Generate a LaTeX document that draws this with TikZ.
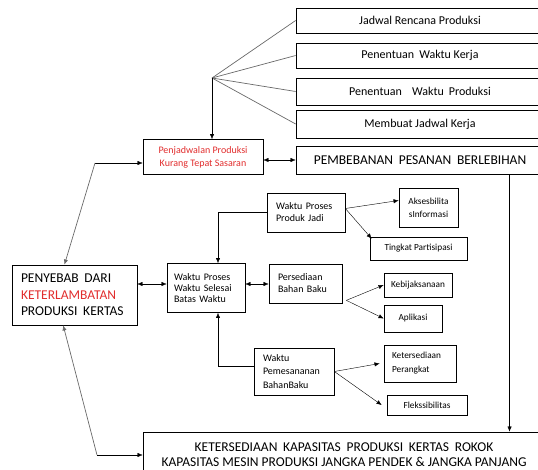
\documentclass[tikz,border=0pt]{standalone}
\usepackage{fontspec}
\setmainfont{Carlito}
\usetikzlibrary{arrows.meta,positioning,calc}

\definecolor{alertred}{RGB}{225,45,45}
\definecolor{linkgray}{RGB}{105,105,105}
\newcommand{\wsp}{\hspace{0.42em}}

\begin{document}
\begin{tikzpicture}[x=1pt,y=-1pt,>={Latex[length=1.8mm,width=1.5mm]},
  box/.style={draw,rectangle,line width=0.7pt,inner sep=2pt},
  topbox/.style={box,minimum width=248,font=\fontsize{12}{14}\selectfont},
  smallbox/.style={box,font=\fontsize{9.3}{13}\selectfont,align=center},
  leftbox/.style={box,font=\fontsize{10}{12}\selectfont,align=left,inner xsep=9pt}]
  \useasboundingbox (0,0) rectangle (538,470);

  % top column of boxes
  \node[topbox,minimum height=25] (jrp) at (420,20.5) {Jadwal Rencana Produksi};
  \node[topbox,minimum height=25] (pwk) at (420,55.5) {Penentuan\wsp Waktu Kerja};
  \node[topbox,minimum height=27] (pwp) at (420,91.5) {Penentuan\wsp\wsp Waktu\wsp Produksi};
  \node[topbox,minimum height=28] (mjk) at (420,124) {Membuat Jadwal Kerja};
  \node[box,minimum width=248,minimum height=28,font=\fontsize{13.5}{15}\selectfont] (pbb) at (420,160)
    {PEMBEBANAN\wsp PESANAN\wsp BERLEBIHAN};
  \node[box,minimum width=120,minimum height=35,align=center,text=alertred,
    font=\fontsize{10}{13}\selectfont] (pkt) at (203,157) {Penjadwalan Produksi\\Kurang Tepat Sasaran};

  % left and middle
  \node[box,minimum width=125,minimum height=60,text width=107,align=left,inner xsep=9pt,
    font=\fontsize{13.5}{16.5}\selectfont] (pyb) at (74.5,295)
    {PENYEBAB\wsp DARI\\\textcolor{alertred}{KETERLAMBATAN}\\PRODUKSI\wsp KERTAS};
  \node[leftbox,minimum width=78,minimum height=49,text width=64,inner xsep=7pt,
    font=\fontsize{10}{11}\selectfont] (wps) at (206,288) {Waktu Proses\\Waktu Selesai\\Batas Waktu};
  \node[leftbox,minimum width=78,minimum height=39,text width=60] (pj) at (306,212.5)
    {Waktu Proses\\Produk Jadi};
  \node[leftbox,minimum width=73,minimum height=39,text width=55] (pbk) at (305.5,283.5)
    {Persediaan\\Bahan Baku};
  \node[leftbox,minimum width=80,minimum height=47,text width=62,font=\fontsize{10}{13.5}\selectfont]
    (wpb) at (294,371.5) {Waktu\\Pemesananan\\BahanBaku};

  % right small boxes
  \node[smallbox,minimum width=59,minimum height=39] (ai) at (428.5,207.5) {Aksesbilita\\sInformasi};
  \node[smallbox,minimum width=97,minimum height=23] (tp) at (418.5,248.5) {Tingkat Partisipasi};
  \node[smallbox,minimum width=68,minimum height=24] (kb) at (418,285) {Kebijaksanaan};
  \node[smallbox,minimum width=58,minimum height=27] (ap) at (413,318.5) {Aplikasi};
  \node[leftbox,minimum width=72,minimum height=37,text width=56,inner xsep=8pt,
    font=\fontsize{9.3}{14}\selectfont] (ksp) at (420,363.5) {Ketersediaan\\Perangkat};
  \node[smallbox,minimum width=80,minimum height=20] (fx) at (427,405) {Flekssibilitas};

  % bottom box
  \node[box,minimum width=402,minimum height=46,align=center,font=\fontsize{13.5}{15}\selectfont] (kkb)
    at (344,455) {KETERSEDIAAN\wsp KAPASITAS\wsp PRODUKSI\wsp KERTAS\wsp ROKOK\\
    KAPASITAS MESIN PRODUKSI JANGKA PENDEK \& JANGKA PANJANG};

  % connectors
  \coordinate (hub) at (212,78);
  \foreach \b in {jrp,pwk,pwp,mjk} \draw[linkgray,line width=0.7pt] (hub) -- (\b.west);
  \draw[->] (hub) -- (hub |- pkt.north);
  \draw[<->] (pkt.east |- pbb.west) -- (pbb.west);

  \coordinate (kl) at (95,163);
  \draw[->] (kl) -- (kl -| pkt.west);
  \draw[->,linkgray,line width=0.7pt] (kl) -- ($(pyb.north west)!0.42!(pyb.north east)$);
  \coordinate (kb2) at (97,455);
  \draw[->] (kb2) -- (kb2 -| kkb.west);
  \draw[->,linkgray,line width=0.7pt] (kb2) -- ($(pyb.south west)!0.41!(pyb.south east)$);

  \coordinate (rv) at ($(pbb.south west)!0.86!(pbb.south east)$);
  \draw[->] (rv) -- (rv |- kkb.north);

  \coordinate (pa) at ([yshift=11pt]pyb.east);
  \draw[<->] (pa) -- (pa -| wps.west);
  \coordinate (pb) at ([yshift=4pt]wps.east);
  \draw[<->] (pb) -- (pb -| pbk.west);
  \draw[->] (pj.west) -| ([xshift=12pt]wps.north);
  \draw[->] ([yshift=5pt]wpb.west) -| ([xshift=12pt]wps.south);

  \coordinate (pjo) at ([yshift=4pt]pj.east);
  \draw[->] (pjo) -- ([yshift=7pt]ai.west);
  \draw[->] (pjo) -- ([shift={(2pt,-2pt)}]tp.north west);
  \coordinate (pbo) at ([shift={(4pt,3pt)}]pbk.south east);
  \draw[->] (pbo) -- (kb.west);
  \draw[->] (pbo) -- (ap.west);
  \draw[->] (wpb.east) -- ([xshift=-4pt]ksp.west);
  \draw[->] (wpb.east) -- ([xshift=-5pt]fx.west);
\end{tikzpicture}
\end{document}
